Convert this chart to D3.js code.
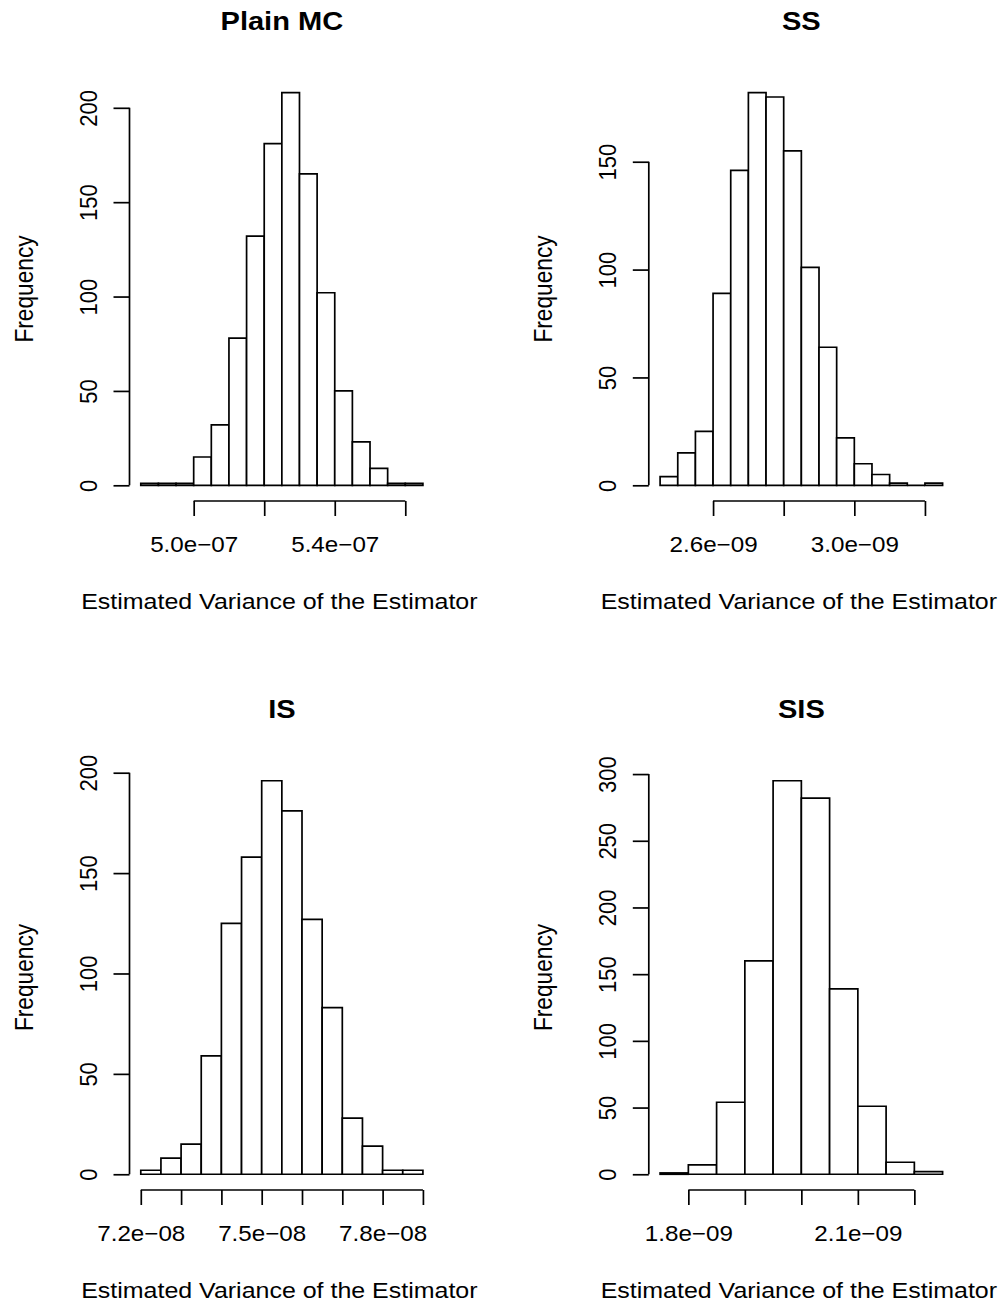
<!DOCTYPE html>
<html>
<head>
<meta charset="utf-8">
<script src="https://cdn.jsdelivr.net/npm/d3@7"></script>
<style>
  html, body { margin: 0; padding: 0; background: #fff; }
  svg { display: block; }
  text { font-family: "Liberation Sans", Arial, Helvetica, sans-serif; fill: #000; }
</style>
</head>
<body>
<svg id="chart" width="1007" height="1306"></svg>
<script>
// Histogram panels: titles, bin edges, counts and axis ticks
const panelTitles = ["Plain MC", "SS", "IS", "SIS"];

const plainMcBreaks = [4.85e-7, 4.90e-7, 4.95e-7, 5.00e-7, 5.05e-7, 5.10e-7, 5.15e-7, 5.20e-7, 5.25e-7,
                       5.30e-7, 5.35e-7, 5.40e-7, 5.45e-7, 5.50e-7, 5.55e-7, 5.60e-7, 5.65e-7];
const plainMcCounts = [1, 1, 1, 15, 32, 78, 132, 181, 208, 165, 102, 50, 23, 9, 1, 1];
const plainMcXTicks = [5.0e-7, 5.2e-7, 5.4e-7, 5.6e-7];
const plainMcXLabels = ["5.0e\u221207", "", "5.4e\u221207", ""];
const plainMcYTicks = [0, 50, 100, 150, 200];

const ssBreaks = [2.45e-9, 2.50e-9, 2.55e-9, 2.60e-9, 2.65e-9, 2.70e-9, 2.75e-9, 2.80e-9, 2.85e-9,
                  2.90e-9, 2.95e-9, 3.00e-9, 3.05e-9, 3.10e-9, 3.15e-9, 3.20e-9, 3.25e-9];
const ssCounts = [4, 15, 25, 89, 146, 182, 180, 155, 101, 64, 22, 10, 5, 1, 0, 1];
const ssXTicks = [2.6e-9, 2.8e-9, 3.0e-9, 3.2e-9];
const ssXLabels = ["2.6e\u221209", "", "3.0e\u221209", ""];
const ssYTicks = [0, 50, 100, 150];

const isBreaks = [7.20e-8, 7.25e-8, 7.30e-8, 7.35e-8, 7.40e-8, 7.45e-8, 7.50e-8, 7.55e-8,
                  7.60e-8, 7.65e-8, 7.70e-8, 7.75e-8, 7.80e-8, 7.85e-8, 7.90e-8];
const isCounts = [2, 8, 15, 59, 125, 158, 196, 181, 127, 83, 28, 14, 2, 2];
const isXTicks = [7.2e-8, 7.3e-8, 7.4e-8, 7.5e-8, 7.6e-8, 7.7e-8, 7.8e-8, 7.9e-8];
const isXLabels = ["7.2e\u221208", "", "", "7.5e\u221208", "", "", "7.8e\u221208", ""];
const isYTicks = [0, 50, 100, 150, 200];

const sisBreaks = [1.75e-9, 1.80e-9, 1.85e-9, 1.90e-9, 1.95e-9, 2.00e-9,
                   2.05e-9, 2.10e-9, 2.15e-9, 2.20e-9, 2.25e-9];
const sisCounts = [1, 7, 54, 160, 295, 282, 139, 51, 9, 2];
const sisXTicks = [1.8e-9, 1.9e-9, 2.0e-9, 2.1e-9, 2.2e-9];
const sisXLabels = ["1.8e\u221209", "", "", "2.1e\u221209", ""];
const sisYTicks = [0, 50, 100, 150, 200, 250, 300];

const xAxisTitle = "Estimated Variance of the Estimator";
const yAxisTitle = "Frequency";

// Panel frames (plot regions) in pixels
const columns = [{ left: 129.5, right: 434.2 }, { left: 648.8, right: 953.9 }];
const rows = [{ top: 77, bottom: 501 }, { top: 765, bottom: 1190 }];

const panels = [
  { title: panelTitles[0], breaks: plainMcBreaks, counts: plainMcCounts, xTicks: plainMcXTicks, xLabels: plainMcXLabels, yTicks: plainMcYTicks, col: 0, row: 0 },
  { title: panelTitles[1], breaks: ssBreaks, counts: ssCounts, xTicks: ssXTicks, xLabels: ssXLabels, yTicks: ssYTicks, col: 1, row: 0 },
  { title: panelTitles[2], breaks: isBreaks, counts: isCounts, xTicks: isXTicks, xLabels: isXLabels, yTicks: isYTicks, col: 0, row: 1 },
  { title: panelTitles[3], breaks: sisBreaks, counts: sisCounts, xTicks: sisXTicks, xLabels: sisXLabels, yTicks: sisYTicks, col: 1, row: 1 }
];

const svg = d3.select("#chart");
const stroke = "#000";
const lw = 1.7;
const fontSize = 22;
const labelSize = 22.7;
const stretch = "scale(1.1,1)";

panels.forEach(p => {
  const c = columns[p.col], r = rows[p.row];
  const lo = p.breaks[0], hi = p.breaks[p.breaks.length - 1];
  const padX = (hi - lo) * 0.04;
  const yMax = d3.max(p.counts);
  const padY = yMax * 0.04;

  const x = d3.scaleLinear().domain([lo - padX, hi + padX]).range([c.left, c.right]);
  const y = d3.scaleLinear().domain([-padY, yMax + padY]).range([r.bottom, r.top]);

  const g = svg.append("g");

  // bars
  const bins = p.counts.map((n, i) => ({ x0: p.breaks[i], x1: p.breaks[i + 1], n }));
  g.selectAll("path.bar").data(bins).join("path")
    .attr("class", "bar")
    .attr("d", d => `M${x(d.x0)},${y(0)}V${y(d.n)}H${x(d.x1)}V${y(0)}Z`)
    .attr("fill", "#fff")
    .attr("stroke", stroke)
    .attr("stroke-width", lw);

  // x axis
  const xAxis = d3.axisBottom(x).tickValues(p.xTicks).tickSize(15).tickSizeOuter(0)
    .tickFormat((d, i) => p.xLabels[i]);
  const gx = g.append("g").attr("transform", `translate(0,${r.bottom})`).call(xAxis);
  gx.select(".domain").remove();
  gx.append("line")
    .attr("x1", x(p.xTicks[0])).attr("x2", x(p.xTicks[p.xTicks.length - 1]))
    .attr("stroke", stroke).attr("stroke-width", lw);
  gx.selectAll(".tick line").attr("stroke", stroke).attr("stroke-width", lw);
  gx.selectAll(".tick text")
    .attr("y", null).attr("dy", null)
    .attr("transform", `translate(0,51) ${stretch}`)
    .attr("font-size", fontSize)
    .attr("font-family", null)
    .attr("fill", "#000");

  // y axis
  const yAxis = d3.axisLeft(y).tickValues(p.yTicks).tickSize(16).tickSizeOuter(0)
    .tickFormat(d3.format("d"));
  const gy = g.append("g").attr("transform", `translate(${c.left},0)`).call(yAxis);
  gy.select(".domain").remove();
  gy.append("line")
    .attr("y1", y(p.yTicks[0])).attr("y2", y(p.yTicks[p.yTicks.length - 1]))
    .attr("stroke", stroke).attr("stroke-width", lw);
  gy.selectAll(".tick line").attr("stroke", stroke).attr("stroke-width", lw);
  gy.selectAll(".tick text")
    .attr("x", null).attr("dy", null)
    .attr("text-anchor", "middle")
    .attr("transform", `translate(-32.6,0) ${stretch} rotate(-90)`)
    .attr("font-size", fontSize)
    .attr("font-family", null)
    .attr("fill", "#000");

  const cx = (c.left + c.right) / 2;
  const cy = (r.top + r.bottom) / 2;

  // title
  g.append("text")
    .attr("transform", `translate(${cx},${r.top - 47}) ${stretch}`)
    .attr("text-anchor", "middle")
    .attr("font-size", 26.4)
    .attr("font-weight", "bold")
    .text(p.title);

  // axis titles
  g.append("text")
    .attr("transform", `translate(${cx - 2.5},${r.bottom + 108}) ${stretch}`)
    .attr("text-anchor", "middle")
    .attr("font-size", labelSize)
    .text(xAxisTitle);

  g.append("text")
    .attr("transform", `translate(${c.left - 97},${cy}) ${stretch} rotate(-90)`)
    .attr("text-anchor", "middle")
    .attr("font-size", labelSize)
    .text(yAxisTitle);
});
</script>
</body>
</html>
